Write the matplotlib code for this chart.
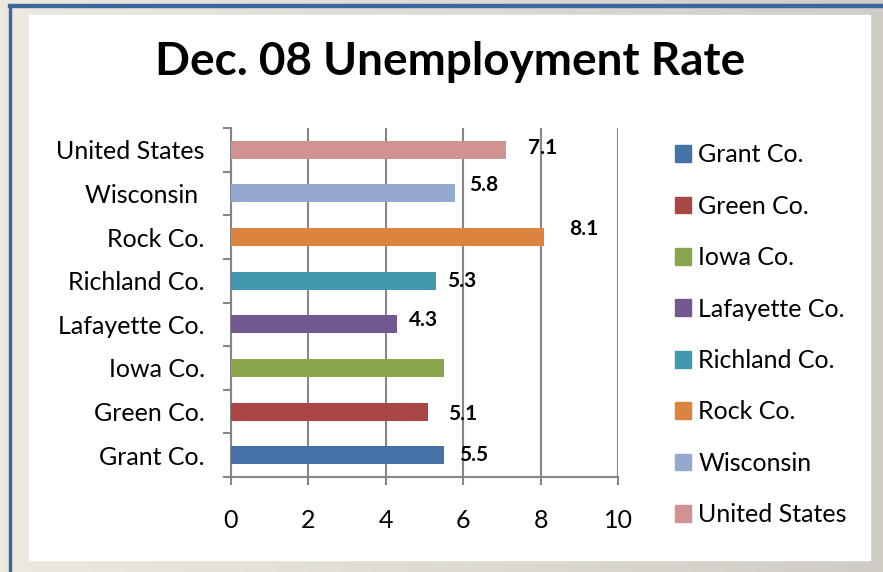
import matplotlib.pyplot as plt
import numpy as np
from matplotlib.patches import Rectangle, Patch
from matplotlib.colors import LinearSegmentedColormap

# donnees
categories = ['Grant Co.', 'Green Co.', 'Iowa Co.', 'Lafayette Co.',
              'Richland Co.', 'Rock Co.', 'Wisconsin ', 'United States']
legend_names = ['Grant Co.', 'Green Co.', 'Iowa Co.', 'Lafayette Co.',
                'Richland Co.', 'Rock Co.', 'Wisconsin', 'United States']
rates = [5.5, 5.1, 5.5, 4.3, 5.3, 8.1, 5.8, 7.1]
show_label = [True, True, False, True, True, True, True, True]
xticks = [0, 2, 4, 6, 8, 10]

colors = ['#4572A7', '#AA4643', '#89A54E', '#71588F',
          '#4198AF', '#DB843D', '#93A9CF', '#D19392']
# decalage des etiquettes (points) comme dans l'original
label_dx = [11, 14, 0, 8, 8, 17.5, 10, 16]
label_dy = [0, -2, 0, 3, 0, 6, 6, 1.5]

plt.rcParams['font.family'] = ['Lato', 'DejaVu Sans']

fig = plt.figure(figsize=(8.83, 5.72), dpi=100)
W, H = 883, 572

# fond degrade + cadre
bg = fig.add_axes([0, 0, 1, 1], zorder=-10)
grad = np.linspace(0, 1, 256).reshape(1, -1)
cmap = LinearSegmentedColormap.from_list('bg', ['#ece9df', '#cfcdc5'])
bg.imshow(grad, aspect='auto', cmap=cmap, extent=[0, W, 0, H])
bg.add_patch(Rectangle((29, 572 - 560), 841, 545, color='white'))
bg.add_patch(Rectangle((8, 572 - 7), W, 3, color='#3d66a0'))
bg.add_patch(Rectangle((8.5, 0), 2.5, 572 - 4, color='#3d66a0'))
bg.set_xlim(0, W)
bg.set_ylim(0, H)
bg.axis('off')

fig.text(450 / W, 1 - 62 / H, 'Dec. 08 Unemployment Rate', ha='center', va='center',
         fontsize=33, fontweight='bold')

ax = fig.add_axes([231 / W, 1 - 477 / H, (618 - 231) / W, (477 - 128) / H])
y = np.arange(len(categories))
ax.barh(y, rates, height=0.41, color=colors, zorder=3)
for i in range(len(rates)):
    if show_label[i]:
        ax.annotate(f'{rates[i]:.1f}', (rates[i], y[i]), xytext=(label_dx[i], label_dy[i]),
                    textcoords='offset points', ha='left', va='center',
                    fontsize=15, fontweight='bold', zorder=4)

ax.set_xlim(0, 10)
ax.set_ylim(-0.5, len(categories) - 0.5)
ax.set_xticks(xticks)
ax.set_xticklabels([str(t) for t in xticks])
ax.set_yticks(y)
ax.set_yticklabels(categories)
ax.set_yticks(np.arange(-0.5, len(categories)), minor=True)
ax.tick_params(axis='y', which='major', length=0, pad=19, labelsize=18)
ax.tick_params(axis='y', which='minor', length=6, width=1.5, color='#868686')
ax.tick_params(axis='x', length=6, width=1.5, color='#868686', pad=17, labelsize=18)
ax.grid(axis='x', color='#868686', linewidth=1.5, zorder=0)
for s in ['top', 'right']:
    ax.spines[s].set_visible(False)
for s in ['left', 'bottom']:
    ax.spines[s].set_color('#868686')
    ax.spines[s].set_linewidth(1.5)

handles = [Patch(color=c) for c in colors]
fig.legend(handles, legend_names, loc='upper left', bbox_to_anchor=(662 / W, 1 - 131 / H),
           frameon=False, fontsize=18, labelspacing=1.135, handlelength=0.65,
           handleheight=0.65, handletextpad=0.3, borderpad=0)

fig.savefig('out.png', dpi=100)
